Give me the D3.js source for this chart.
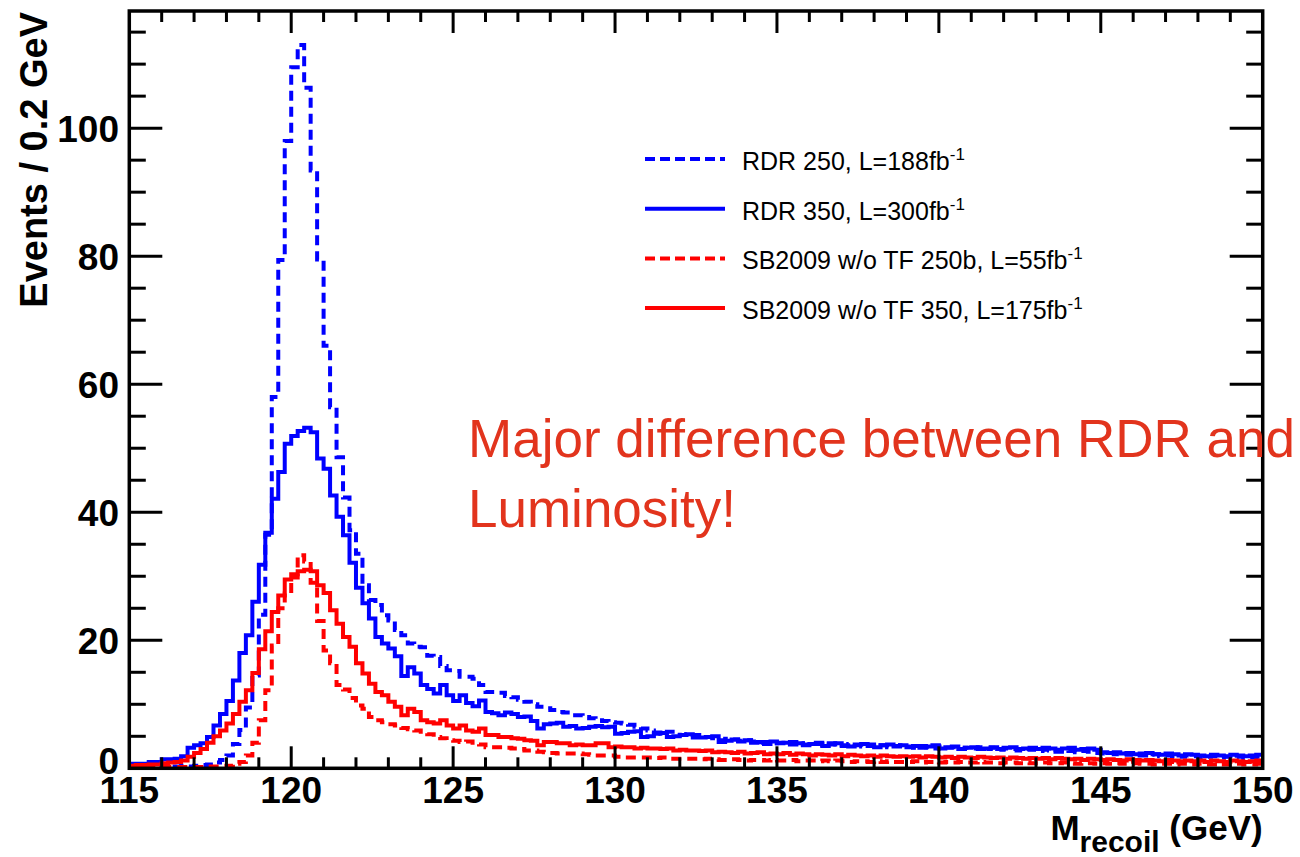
<!DOCTYPE html>
<html>
<head>
<meta charset="utf-8">
<script src="https://cdn.jsdelivr.net/npm/d3@7"></script>
<style>
  html, body { margin: 0; padding: 0; background: #ffffff; }
  svg { display: block; }
  text { font-family: "Liberation Sans", Arial, Helvetica, sans-serif; }
</style>
</head>
<body>
<svg id="chart" width="1300" height="857"></svg>
<script>
// Recoil-mass histograms, 0.2 GeV bins from 115 to 150 GeV
const binLow = 115;
const binHigh = 150;
const binWidth = 0.2;

// RDR 250, L=188 fb^-1 (blue, dashed)
const rdr250 = [
  0.2,0.2,0.3,0.2,0.3,0.3,0.2,0.3,0.4,0.3,
  0.4,0.5,0.6,0.9,1.3,2.0,3.8,6.0,9.5,14.5,
  24.0,36.5,58.0,79.4,98.0,109.5,113.0,106.3,93.4,79.5,
  66.0,56.4,48.6,42.3,37.2,33.5,28.6,26.3,25.5,23.9,
  23.1,21.6,20.8,19.5,19.0,18.9,17.6,17.4,16.0,15.3,
  15.2,14.3,14.3,14.0,13.0,11.9,11.9,11.8,11.3,11.1,
  10.7,10.4,10.0,9.6,9.4,9.1,8.8,8.7,8.3,8.3,
  8.0,7.8,7.5,7.4,7.2,7.1,7.0,6.8,6.5,6.2,
  5.9,5.6,5.4,5.7,5.7,5.2,5.3,5.2,5.0,4.9,
  4.7,4.4,4.6,4.5,4.3,4.4,4.2,4.0,4.1,3.9,
  4.0,3.8,4.1,3.9,3.7,3.9,3.8,3.6,3.9,3.7,
  3.5,3.8,3.6,3.4,3.7,3.5,3.6,3.3,3.5,3.6,
  3.4,3.2,3.5,3.3,3.1,3.4,3.2,3.3,3.0,3.2,
  3.1,3.3,3.0,3.2,2.9,3.1,3.0,2.8,3.0,2.9,
  2.7,2.9,2.8,2.6,2.8,2.7,2.5,2.7,2.6,2.4,
  2.3,2.4,2.2,2.3,2.1,2.2,2.0,2.1,2.2,1.9,
  2.0,1.9,1.8,2.0,1.9,1.7,1.8,1.9,1.7,1.8,
  1.7,1.8,1.6,1.7,1.8
];

// RDR 350, L=300 fb^-1 (blue, solid)
const rdr350 = [
  0.7,0.7,0.7,1.0,1.0,1.4,1.4,1.5,1.9,3.2,
  3.6,3.9,4.9,6.7,8.5,10.5,13.7,18.0,20.8,26.0,
  31.8,36.8,42.1,46.3,50.7,51.9,52.7,53.2,52.5,48.4,
  46.8,42.6,39.3,36.4,32.1,28.2,25.8,23.4,20.5,19.5,
  18.7,17.5,14.4,15.8,14.8,13.0,12.4,11.7,13.0,11.4,
  10.5,11.4,10.2,9.7,10.6,8.8,8.6,8.3,8.7,8.5,
  8.0,8.1,7.4,6.2,6.9,7.0,7.1,6.5,6.6,6.2,
  6.3,6.5,6.6,6.4,6.5,5.4,5.5,5.7,5.8,4.9,
  5.0,5.4,5.5,4.9,5.0,5.2,5.3,4.8,4.8,4.9,
  5.0,4.1,4.3,4.5,4.2,4.4,4.0,4.1,3.8,4.2,
  3.9,4.0,3.7,3.9,3.6,3.8,4.0,3.5,3.7,3.9,
  3.6,3.4,3.7,3.8,3.5,3.3,3.6,3.7,3.4,3.6,
  3.3,3.5,3.2,3.4,3.6,3.1,3.3,3.4,3.0,3.2,
  3.3,3.0,3.1,3.3,3.0,3.2,3.3,3.0,3.1,3.2,
  3.0,3.2,3.1,2.9,3.1,3.2,2.9,3.0,3.1,2.9,
  2.5,2.4,2.5,2.3,2.4,2.2,2.3,2.4,2.2,2.1,
  2.3,2.2,2.0,2.2,2.1,2.0,1.9,2.1,2.0,1.9,
  2.1,2.0,1.9,2.0,2.1
];

// SB2009 w/o TF 250b, L=55 fb^-1 (red, dashed)
const sb250b = [
  0.2,0.2,0.2,0.2,0.2,0.2,0.2,0.2,0.2,0.2,
  0.2,0.2,0.3,0.3,0.3,0.4,0.7,1.0,2.0,4.0,
  7.5,12.2,19.2,25.0,27.3,29.8,33.3,32.3,29.0,23.0,
  18.4,16.4,13.0,12.3,11.0,9.8,9.3,8.0,7.5,7.2,
  6.9,6.7,6.3,6.1,5.9,5.7,5.3,4.9,4.7,4.4,
  4.3,4.1,4.2,4.0,3.7,3.3,3.3,3.3,3.2,3.1,
  3.0,2.8,2.8,2.6,2.5,2.4,2.3,2.3,2.3,2.3,
  2.2,2.1,2.0,2.0,2.0,1.8,1.7,1.7,1.7,1.7,
  1.7,1.6,1.7,1.5,1.5,1.5,1.5,1.5,1.4,1.5,
  1.4,1.3,1.3,1.4,1.3,1.2,1.3,1.3,1.2,1.3,
  1.2,1.2,1.3,1.1,1.2,1.2,1.1,1.2,1.1,1.2,
  1.1,1.0,1.1,1.1,1.0,1.1,1.0,1.1,1.0,1.0,
  1.0,1.1,0.9,1.0,1.0,0.9,1.0,0.9,1.0,0.9,
  0.9,1.0,0.9,0.9,0.8,0.9,0.9,0.8,0.9,0.8,
  0.8,0.9,0.8,0.8,0.9,0.8,0.7,0.8,0.8,0.7,
  0.8,0.7,0.8,0.7,0.7,0.8,0.7,0.7,0.6,0.7,
  0.7,0.6,0.7,0.7,0.6,0.7,0.6,0.6,0.7,0.6,
  0.6,0.7,0.6,0.6,0.7
];

// SB2009 w/o TF 350, L=175 fb^-1 (red, solid)
const sb350 = [
  0.4,0.5,0.5,0.6,0.6,0.8,0.9,1.0,1.2,1.8,
  2.4,3.0,4.0,5.0,5.9,7.0,8.5,10.4,12.2,14.9,
  18.6,21.4,24.4,27.0,29.5,30.3,30.8,31.0,30.8,28.6,
  27.4,24.7,22.6,20.5,19.0,16.4,14.8,13.2,11.9,11.4,
  10.4,9.6,8.3,9.3,8.8,7.5,7.2,7.0,7.5,6.7,
  6.2,6.7,5.9,5.7,6.2,5.2,5.2,4.9,4.9,4.7,
  4.6,4.4,4.3,3.6,4.1,4.1,3.9,3.9,3.6,3.7,
  3.6,3.6,3.9,3.9,3.3,3.4,3.3,3.3,3.1,3.2,
  3.1,3.1,3.0,3.1,2.8,2.9,2.8,2.8,2.7,2.8,
  2.5,2.6,2.5,2.4,2.6,2.3,2.4,2.5,2.2,2.3,
  2.2,2.4,2.1,2.3,2.2,2.0,2.2,2.1,2.0,2.2,
  1.9,2.1,2.0,1.9,2.0,1.8,2.0,1.9,1.8,1.9,
  1.8,1.9,1.7,1.9,1.8,1.7,1.8,1.6,1.8,1.7,
  1.6,1.8,1.7,1.6,1.7,1.5,1.7,1.6,1.5,1.6,
  1.5,1.6,1.4,1.6,1.5,1.4,1.5,1.3,1.5,1.4,
  1.3,1.4,1.3,1.2,1.4,1.3,1.2,1.3,1.2,1.1,
  1.3,1.2,1.1,1.2,1.1,1.2,1.0,1.2,1.1,1.0,
  1.2,1.1,1.0,1.1,1.2
];

// Axis ticks
const xMajorTicks = [115, 120, 125, 130, 135, 140, 145, 150];
const yMajorTicks = [0, 20, 40, 60, 80, 100];
const yMax = 118.3;

// Legend rows, top to bottom
const legendLabels = [
  "RDR 250, L=188fb",
  "RDR 350, L=300fb",
  "SB2009 w/o TF 250b, L=55fb",
  "SB2009 w/o TF 350, L=175fb"
];
const legendColors = ["#0000ff", "#0000ff", "#ff0000", "#ff0000"];
const legendDashed = [true, false, true, false];

const noteLines = ["Major difference between RDR and", "Luminosity!"];

// Frame geometry
const frame = { left: 129.3, right: 1262.7, top: 11, bottom: 768.3 };

const svg = d3.select("#chart");

const x = d3.scaleLinear().domain([binLow, binHigh]).range([frame.left, frame.right]);
const y = d3.scaleLinear().domain([0, yMax]).range([frame.bottom, frame.top]);

svg.append("defs").append("clipPath").attr("id", "plotClip")
  .append("rect")
  .attr("x", frame.left).attr("y", frame.top)
  .attr("width", frame.right - frame.left)
  .attr("height", frame.bottom - frame.top);

// Histogram outlines
const dashPattern = "10,6";
const series = [
  { values: rdr250, color: "#0000ff", dashed: true },
  { values: rdr350, color: "#0000ff", dashed: false },
  { values: sb250b, color: "#ff0000", dashed: true },
  { values: sb350, color: "#ff0000", dashed: false }
];

const stepLine = d3.line()
  .x(d => x(d.edge))
  .y(d => y(d.value))
  .curve(d3.curveStepAfter);

const histGroup = svg.append("g").attr("clip-path", "url(#plotClip)");
series.forEach(s => {
  const pts = s.values.map((v, i) => ({ edge: binLow + i * binWidth, value: v }));
  pts.push({ edge: binHigh, value: s.values[s.values.length - 1] });
  histGroup.append("path")
    .datum(pts)
    .attr("d", stepLine)
    .attr("fill", "none")
    .attr("stroke", s.color)
    .attr("stroke-width", 4)
    .attr("stroke-linejoin", "miter")
    .attr("stroke-dasharray", s.dashed ? dashPattern : null);
});

// Ticks on all four sides (pointing inwards)
const ticks = svg.append("g").attr("stroke", "#000").attr("stroke-width", 3);
const xMinor = d3.range(binLow, binHigh + 0.001, 1);
xMinor.forEach(v => {
  const major = xMajorTicks.includes(Math.round(v));
  const len = major ? 22 : 11;
  if (v > binLow && v < binHigh) {
    ticks.append("line").attr("x1", x(v)).attr("x2", x(v))
      .attr("y1", frame.bottom).attr("y2", frame.bottom - len);
    ticks.append("line").attr("x1", x(v)).attr("x2", x(v))
      .attr("y1", frame.top).attr("y2", frame.top + len);
  }
});
const yMinor = d3.range(0, yMax, 5);
yMinor.forEach(v => {
  const major = yMajorTicks.includes(v);
  const len = major ? 33 : 16.5;
  if (v > 0) {
    ticks.append("line").attr("x1", frame.left).attr("x2", frame.left + len)
      .attr("y1", y(v)).attr("y2", y(v));
    ticks.append("line").attr("x1", frame.right).attr("x2", frame.right - len)
      .attr("y1", y(v)).attr("y2", y(v));
  }
});

// Frame
svg.append("rect")
  .attr("x", frame.left).attr("y", frame.top)
  .attr("width", frame.right - frame.left)
  .attr("height", frame.bottom - frame.top)
  .attr("fill", "none").attr("stroke", "#000").attr("stroke-width", 3.5);

// Tick labels
const labelFont = 37;
svg.append("g").selectAll("text").data(xMajorTicks).join("text")
  .attr("x", d => x(d)).attr("y", 803)
  .attr("text-anchor", "middle")
  .attr("font-size", labelFont).attr("font-weight", "bold")
  .text(d => d);

// the lowest y label is lifted so it sits just above the x labels
svg.append("g").selectAll("text").data(yMajorTicks).join("text")
  .attr("x", 119).attr("y", d => Math.min(y(d) + 14, 774))
  .attr("text-anchor", "end")
  .attr("font-size", labelFont).attr("font-weight", "bold")
  .text(d => d);

// Axis titles
const xTitle = svg.append("text")
  .attr("x", frame.right).attr("y", 840)
  .attr("text-anchor", "end")
  .attr("font-size", 35).attr("font-weight", "bold");
xTitle.append("tspan").text("M");
xTitle.append("tspan").attr("font-size", 30).attr("dy", 12).text("recoil");
xTitle.append("tspan").attr("dy", -12).text(" (GeV)");

svg.append("text")
  .attr("transform", `translate(47, ${frame.top + 1}) rotate(-90)`)
  .attr("text-anchor", "end")
  .attr("font-size", 38).attr("font-weight", "bold")
  .text("Events / 0.2 GeV");

// Legend
const legend = svg.append("g");
legendLabels.forEach((label, i) => {
  const cy = 159 + i * 49.7;
  legend.append("line")
    .attr("x1", 645).attr("x2", 725).attr("y1", cy).attr("y2", cy)
    .attr("stroke", legendColors[i]).attr("stroke-width", 4)
    .attr("stroke-dasharray", legendDashed[i] ? "10,5" : null);
  const t = legend.append("text")
    .attr("x", 742).attr("y", cy + 11)
    .attr("font-size", 25);
  t.append("tspan").text(label);
  t.append("tspan").attr("font-size", 17).attr("dy", -10).text("-1");
});

// Annotation
svg.append("g").selectAll("text").data(noteLines).join("text")
  .attr("x", 468).attr("y", (d, i) => 457 + i * 70)
  .attr("font-size", 53)
  .attr("fill", "#e2341d")
  .text(d => d);
</script>
</body>
</html>
